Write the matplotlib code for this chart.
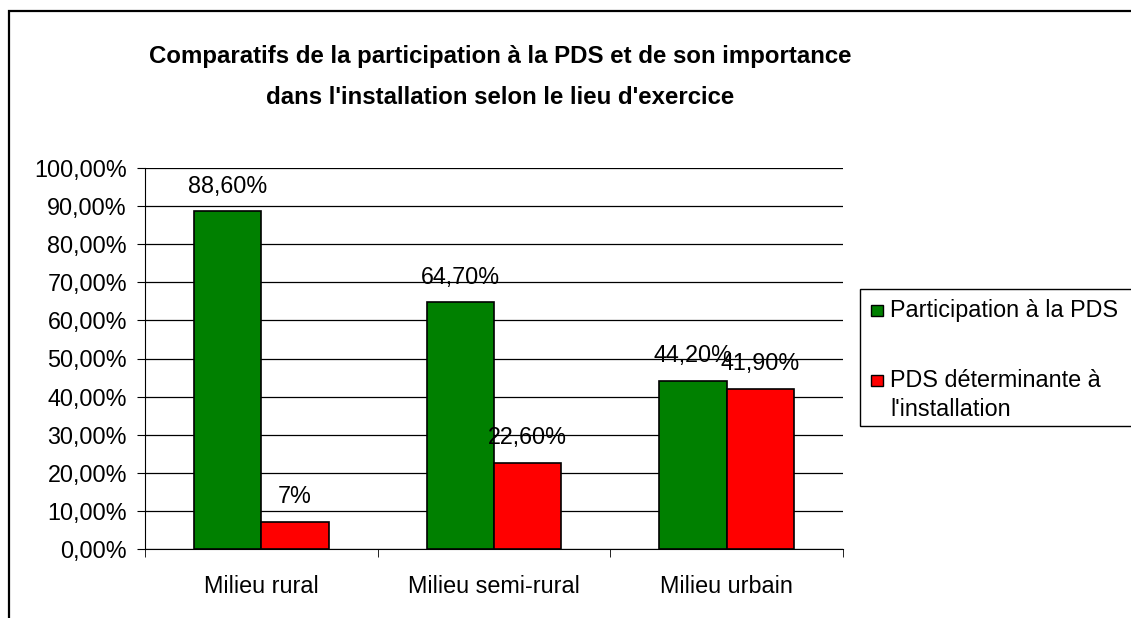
import matplotlib.pyplot as plt
import numpy as np
from matplotlib.patches import Rectangle

plt.rcParams['font.family'] = ['Liberation Sans', 'DejaVu Sans']

categories = ["Milieu rural", "Milieu semi-rural", "Milieu urbain"]
participation = [88.6, 64.7, 44.2]
determinante = [7.0, 22.6, 41.9]
labels_part = ["88,60%", "64,70%", "44,20%"]
labels_det = ["7%", "22,60%", "41,90%"]
series_names = ["Participation à la PDS", "PDS déterminante à\nl'installation"]
colors = ['#008000', '#ff0000']
yticks = np.arange(0, 101, 10)

W, H = 1131, 618
fs = 16.8
fig = plt.figure(figsize=(W / 100, H / 100), dpi=100)


def px(x, y):
    # pixels (origine en haut à gauche) -> coordonnées figure
    return x / W, 1 - y / H


# cadre extérieur (seulement gauche et haut visibles)
fig.patches.append(Rectangle((9 / W, -0.1), 1.2, 1 - 11 / H + 0.1, transform=fig.transFigure,
                             fill=False, edgecolor='black', linewidth=1.6))

ax = fig.add_axes([145 / W, (H - 549) / H, (843 - 145) / W, (549 - 168) / H])

x = np.arange(len(categories))
w = 0.29
b1 = ax.bar(x - w / 2, participation, w, color=colors[0], edgecolor='black', linewidth=1.2, zorder=3)
b2 = ax.bar(x + w / 2, determinante, w, color=colors[1], edgecolor='black', linewidth=1.2, zorder=3)

for bars, labs in ((b1, labels_part), (b2, labels_det)):
    for rect, lab in zip(bars, labs):
        ax.annotate(lab, (rect.get_x() + rect.get_width() / 2, rect.get_height()),
                    xytext=(0, 10), textcoords='offset points', ha='center', va='bottom', fontsize=fs)

ax.set_xlim(-0.5, 2.5)
ax.set_ylim(0, 100)
ax.set_yticks(yticks)
ax.set_yticklabels([f"{v:.2f}%".replace('.', ',') for v in yticks], fontsize=fs)
ax.yaxis.grid(True, color='black', linewidth=0.9, zorder=0)
ax.set_axisbelow(True)

ax.set_xticks(x)
ax.set_xticklabels(categories, fontsize=fs)
ax.set_xticks([-0.5, 0.5, 1.5, 2.5], minor=True)
ax.tick_params(axis='x', which='major', length=0, pad=19)
ax.tick_params(axis='x', which='minor', length=6, direction='out', color='black')
ax.tick_params(axis='y', length=6, direction='out', color='black', pad=7)

for s in ['top', 'right']:
    ax.spines[s].set_visible(False)
ax.spines['left'].set_color('black')
ax.spines['bottom'].set_color('black')

fig.text(*px(500, 77),
         "Comparatifs de la participation à la PDS et de son importance\ndans l'installation selon le lieu d'exercice",
         ha='center', va='center', fontsize=17.3, fontweight='bold', linespacing=1.95)

# légende dessinée à la main (carré aligné sur la première ligne du libellé)
x0, y0 = px(860, 426)
fig.patches.append(Rectangle((x0, y0), 0.5, (426 - 289) / H, transform=fig.transFigure,
                             facecolor='white', edgecolor='black', linewidth=1.0))
baselines = [317, 387]
for name, col, yb in zip(series_names, colors, baselines):
    sx, sy = px(871, yb - 1)
    fig.patches.append(Rectangle((sx, sy), 12 / W, 11 / H, transform=fig.transFigure,
                                 facecolor=col, edgecolor='black', linewidth=1.0))
    for i, line in enumerate(name.split('\n')):
        fig.text(*px(890, yb + 29 * i), line, ha='left', va='baseline', fontsize=fs)

fig.savefig("out.png", dpi=100)
